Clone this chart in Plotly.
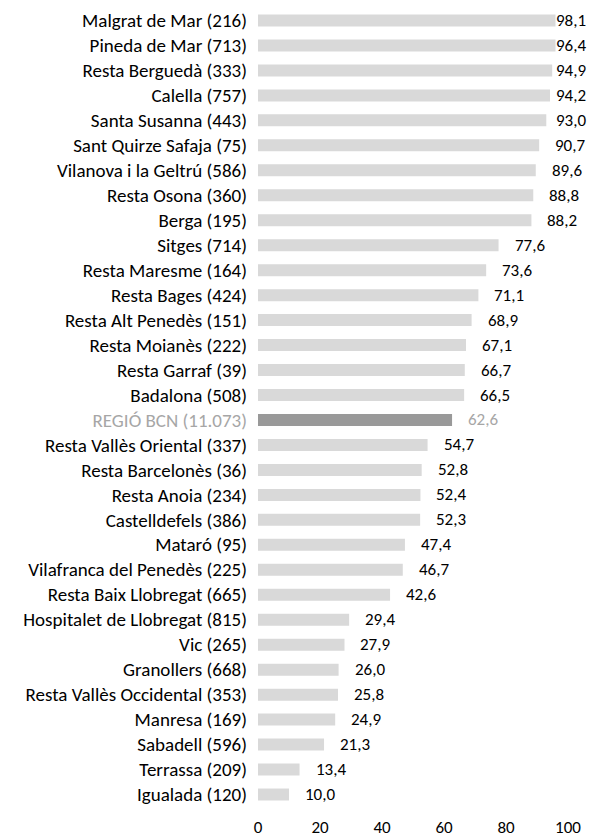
import plotly.graph_objects as go

categories = [
    "Malgrat de Mar (216)", "Pineda de Mar (713)", "Resta Berguedà (333)", "Calella (757)",
    "Santa Susanna (443)", "Sant Quirze Safaja (75)", "Vilanova i la Geltrú (586)",
    "Resta Osona (360)", "Berga (195)", "Sitges (714)", "Resta Maresme (164)",
    "Resta Bages (424)", "Resta Alt Penedès (151)", "Resta Moianès (222)",
    "Resta Garraf (39)", "Badalona (508)", "REGIÓ BCN (11.073)",
    "Resta Vallès Oriental (337)", "Resta Barcelonès (36)", "Resta Anoia (234)",
    "Castelldefels (386)", "Mataró (95)", "Vilafranca del Penedès (225)",
    "Resta Baix Llobregat (665)", "Hospitalet de Llobregat (815)", "Vic (265)",
    "Granollers (668)", "Resta Vallès Occidental (353)", "Manresa (169)",
    "Sabadell (596)", "Terrassa (209)", "Igualada (120)",
]
values = [
    98.1, 96.4, 94.9, 94.2, 93.0, 90.7, 89.6, 88.8, 88.2, 77.6, 73.6, 71.1, 68.9,
    67.1, 66.7, 66.5, 62.6, 54.7, 52.8, 52.4, 52.3, 47.4, 46.7, 42.6, 29.4, 27.9,
    26.0, 25.8, 24.9, 21.3, 13.4, 10.0,
]
highlight = "REGIÓ BCN (11.073)"
x_ticks = [0, 20, 40, 60, 80, 100]

W, H = 591, 838
ML, MR, MT, MB = 258, 23, 8, 31
plot_w = W - ML - MR
px_per_unit = plot_w / 100.0

FONT = "Carlito, Calibri, Lato, sans-serif"
CAT_SIZE = 19
NUM_SIZE = 17
BAR = "#d9d9d9"
BAR_HI = "#999999"
TXT = "#000000"
TXT_HI = "#a6a6a6"

bar_colors = [BAR_HI if c == highlight else BAR for c in categories]

fig = go.Figure()
fig.add_trace(go.Bar(
    x=values, y=categories, orientation="h",
    marker=dict(color=bar_colors, line=dict(width=0)),
    hoverinfo="skip",
))

ticktext = [
    f'<span style="color:{TXT_HI}">{c}</span>' if c == highlight else c
    for c in categories
]

max_start = 297  # px from plot left where labels stop moving right
annotations = []
for c, v in zip(categories, values):
    natural = v * px_per_unit + 15
    shift = 15 if natural <= max_start else max_start - v * px_per_unit
    annotations.append(dict(
        x=v, y=c, xref="x", yref="y", text=f"{v:.1f}".replace(".", ","),
        showarrow=False, xanchor="left", yanchor="middle", xshift=shift,
        font=dict(family=FONT, size=NUM_SIZE, color=TXT_HI if c == highlight else TXT),
        bgcolor="white", borderpad=0,
    ))

fig.update_layout(
    width=W, height=H,
    margin=dict(l=ML, r=MR, t=MT, b=MB, pad=0, autoexpand=False),
    paper_bgcolor="white", plot_bgcolor="white",
    bargap=0.52, showlegend=False,
    font=dict(family=FONT, size=NUM_SIZE, color=TXT),
    annotations=annotations,
    xaxis=dict(
        range=[0, 100], tickvals=x_ticks, ticktext=[str(t) for t in x_ticks],
        showgrid=False, zeroline=False, showline=False, ticks="",
        ticklabelstandoff=8, tickfont=dict(family=FONT, size=NUM_SIZE, color=TXT),
        fixedrange=True, automargin=False,
    ),
    yaxis=dict(
        type="category", categoryorder="array", categoryarray=categories,
        tickvals=categories, ticktext=ticktext, autorange="reversed",
        showgrid=False, zeroline=False, showline=False, ticks="",
        ticklabelstandoff=10, tickfont=dict(family=FONT, size=CAT_SIZE, color=TXT),
        fixedrange=True, automargin=False,
    ),
)

fig.write_html(
    "out.html",
    config={"displayModeBar": False},
    post_script="document.body.style.margin='0';",
)
